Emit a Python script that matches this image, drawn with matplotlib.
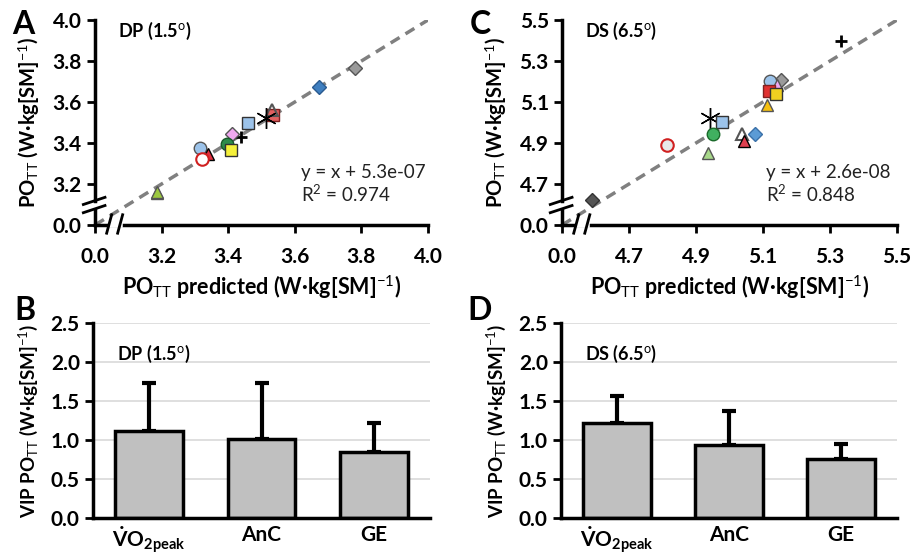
import numpy as np
import matplotlib
matplotlib.use("Agg")
import matplotlib.pyplot as plt

plt.rcParams['font.family'] = ['Lato', 'DejaVu Sans']
plt.rcParams['mathtext.fontset'] = 'custom'
plt.rcParams['mathtext.rm'] = 'Lato'
plt.rcParams['mathtext.bf'] = 'Lato:bold'
plt.rcParams['mathtext.it'] = 'Lato:italic'

# ---- data: panel A (DP 1.5 deg), predicted vs measured PO_TT ----
a_pred = [3.78, 3.673, 3.535, 3.533, 3.515, 3.46, 3.437, 3.412, 3.395, 3.407,
          3.315, 3.34, 3.32, 3.185, 3.185]
a_meas = [3.764, 3.672, 3.537, 3.56, 3.524, 3.499, 3.429, 3.442, 3.397, 3.366,
          3.377, 3.345, 3.324, 3.155, 3.163]
a_mark = ['D', 'D', 's', '^', 'ast', 's', '+', 'D', 'o', 's', 'o', '^', 'o', '^', '^']
a_face = ['#9a9a9a', '#3f7fc0', '#e06060', 'none', 'k', '#9cc3ea', 'k', '#f0a8f0',
          '#2e8b4a', '#f5f03a', '#9cc3ea', '#e03040', 'white', '#f0d020', '#9cc840']
a_edge = ['#555555', '#2a5a90', '#802020', '#555555', 'k', '#333333', 'k', '#555555',
          '#1a5a2a', '#333333', '#555555', 'k', '#d02020', '#555555', '#555555']

# ---- data: panel C (DS 6.5 deg) ----
c_pred = [5.333, 5.155, 5.122, 5.142, 5.117, 5.139, 5.112, 4.943, 4.978, 5.037,
          5.077, 5.042, 4.95, 4.936, 4.813, 4.59]
c_meas = [5.398, 5.205, 5.203, 5.184, 5.152, 5.14, 5.087, 5.022, 5.001, 4.946,
          4.944, 4.908, 4.944, 4.852, 4.889, 4.622]
c_mark = ['+', 'D', 'o', '^', 's', 's', '^', 'ast', 's', '^', 'D', '^', 'o', '^', 'o', 'D']
c_face = ['k', '#9a9a9a', '#9cc3ea', '#f0a8f0', '#e03030', '#f0d020', '#f5c010', 'k',
          '#9cc3ea', 'white', '#5b9bd5', '#e04050', '#40b060', '#a8d88a', '#e8e8e8', '#555555']
c_edge = ['k', '#555555', '#555555', '#555555', '#802020', '#333333', '#555555', 'k',
          '#333333', '#555555', '#3a70a8', 'k', '#1a6a2a', '#555555', '#d02020', '#333333']

a_fit = ("y = x + 5.3e-07", "0.974")
c_fit = ("y = x + 2.6e-08", "0.848")

a_ticks = ['0.0', '3.2', '3.4', '3.6', '3.8', '4.0']
c_ticks = ['0.0', '4.7', '4.9', '5.1', '5.3', '5.5']

# ---- data: panels B and D, VIP values ----
vip_cats = [r'$\mathbf{\dot{V}O_{2peak}}$', 'AnC', 'GE']
b_vip = [1.12, 1.01, 0.84]
b_err = [0.61, 0.72, 0.38]
d_vip = [1.22, 0.94, 0.76]
d_err = [0.35, 0.43, 0.19]

ylab = r'PO$_{\mathrm{TT}}$ (W·kg[SM]$^{\mathrm{-1}}$)'
xlab = r'PO$_{\mathrm{TT}}$ predicted (W·kg[SM]$^{\mathrm{-1}}$)'
viplab = r'VIP PO$_{\mathrm{TT}}$ (W·kg[SM]$^{\mathrm{-1}}$)'

W, H = 911, 558
fig = plt.figure(figsize=(W / 100, H / 100), dpi=100)


def box(l, r, t, b):
    return [l / W, 1 - b / H, (r - l) / W, (b - t) / H]


def style_axes(ax):
    for s in ['top', 'right']:
        ax.spines[s].set_visible(False)
    for s in ['left', 'bottom']:
        ax.spines[s].set_linewidth(2.5)
    ax.tick_params(width=2, length=6, labelsize=15)
    for lab in ax.get_xticklabels() + ax.get_yticklabels():
        lab.set_fontweight('bold')


def scatter_panel(rect, lo, pred, meas, mark, face, edge, ticks, fit, tag, letter, lx, fx):
    ax = fig.add_axes(rect)
    hi = lo + 1.0
    ax.set_xlim(lo, hi)
    ax.set_ylim(lo, hi)
    xs = np.array([lo, hi])
    ax.plot(xs, xs, ls=(0, (3, 2)), color='#808080', lw=2.5, zorder=1)
    for x, y, m, f, e in zip(pred, meas, mark, face, edge):
        if m == 'ast':
            ax.plot(x, y, marker=(6, 2, 0), color=f, ms=15, mew=1.0, ls='none', zorder=3)
        elif m == '+':
            ax.plot(x, y, marker=m, color=f, ms=9, mew=2, ls='none', zorder=3)
        else:
            ax.plot(x, y, marker=m, mfc=f, mec=e, ms=9 if m != 'D' else 7,
                    mew=1.5 if f in ('none', 'white', '#e8e8e8') else 1, ls='none', zorder=3)
    tk = [lo, lo + 0.2, lo + 0.4, lo + 0.6, lo + 0.8, hi]
    ax.set_xticks(tk)
    ax.set_yticks(tk)
    ax.set_xticklabels(ticks)
    ax.set_yticklabels(ticks)
    style_axes(ax)
    ax.tick_params(axis='x', pad=10)
    ax.set_xlabel(xlab, fontsize=15.5, fontweight='bold', labelpad=4)
    ax.set_ylabel(ylab, fontsize=14.5, fontweight='bold', labelpad=8)
    ax.text(0.07, 1.0, tag, transform=ax.transAxes, fontsize=13, fontweight='bold',
            va='top')
    ax.text(fx, 0.10, fit[0] + "\n" + r"R$^{2}$ = " + fit[1], transform=ax.transAxes,
            fontsize=13.5, va='bottom', linespacing=1.1, color='#222222')
    # axis break marks
    tr = ax.transAxes
    ax.plot([-0.012, 0.012], [0.095, 0.095], color='white', lw=4, transform=tr,
            clip_on=False, zorder=5)
    ax.plot([-0.035, 0.03], [0.06, 0.095], color='k', lw=2, transform=tr, clip_on=False, zorder=6)
    ax.plot([-0.035, 0.03], [0.1, 0.135], color='k', lw=2, transform=tr, clip_on=False, zorder=6)
    ax.plot([0.05, 0.075], [0.0, 0.0], color='white', lw=4, transform=tr,
            clip_on=False, zorder=5)
    ax.plot([0.035, 0.05], [-0.04, 0.05], color='k', lw=2, transform=tr, clip_on=False, zorder=6)
    ax.plot([0.068, 0.083], [-0.04, 0.05], color='k', lw=2, transform=tr, clip_on=False, zorder=6)
    fig.text(lx / W, 1 - 10 / H, letter, fontsize=23, fontweight='bold', va='top')
    return ax


def bar_panel(rect, vals, errs, tag, letter, lx):
    ax = fig.add_axes(rect)
    pos = np.arange(len(vip_cats))
    ax.bar(pos, vals, width=0.6, color='#c0c0c0', edgecolor='k', linewidth=2.5, zorder=2)
    ax.errorbar(pos, vals, yerr=[np.zeros(len(errs)), errs], fmt='none', ecolor='k',
                elinewidth=3, capsize=5, capthick=3, zorder=1)
    ax.set_xlim(-0.5, len(vip_cats) - 0.5)
    ax.set_ylim(0, 2.5)
    ax.set_yticks(np.arange(0, 2.51, 0.5))
    ax.set_yticklabels([f'{v:.1f}' for v in np.arange(0, 2.51, 0.5)])
    ax.set_xticks(pos)
    ax.set_xticklabels(vip_cats)
    ax.yaxis.grid(True, color='#d9d9d9', lw=1.2, zorder=0)
    ax.set_axisbelow(True)
    style_axes(ax)
    ax.tick_params(axis='x', length=0, pad=5, labelsize=15)
    ax.set_ylabel(viplab, fontsize=13.5, fontweight='bold', labelpad=8)
    ax.text(0.07, 0.90, tag, transform=ax.transAxes, fontsize=13, fontweight='bold',
            va='top')
    fig.text(lx / W, 1 - 296 / H, letter, fontsize=23, fontweight='bold', va='top')
    return ax


tagA = r'DP (1.5$^{\mathrm{o}}$)'
tagC = r'DS (6.5$^{\mathrm{o}}$)'

scatter_panel(box(95, 428, 20, 225), 3.0, a_pred, a_meas, a_mark, a_face, a_edge,
              a_ticks, a_fit, tagA, 'A', 12, 0.62)
scatter_panel(box(562, 897, 20, 225), 4.5, c_pred, c_meas, c_mark, c_face, c_edge,
              c_ticks, c_fit, tagC, 'C', 470, 0.61)
bar_panel(box(93, 430, 323, 518), b_vip, b_err, tagA, 'B', 14)
bar_panel(box(561, 897, 323, 518), d_vip, d_err, tagC, 'D', 467)

fig.savefig('out.png', dpi=100)
